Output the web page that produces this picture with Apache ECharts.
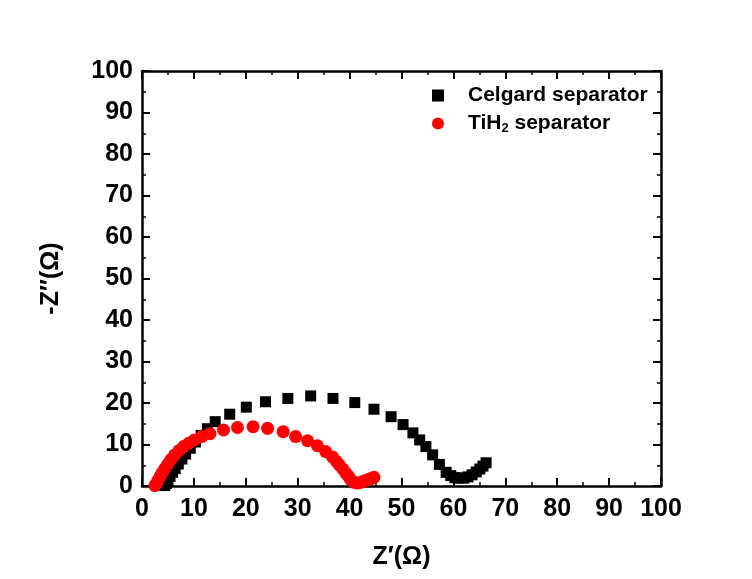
<!DOCTYPE html>
<html>
<head>
<meta charset="utf-8">
<script src="https://cdn.jsdelivr.net/npm/echarts@6/dist/echarts.min.js"></script>
<style>
  html, body { margin: 0; padding: 0; background: #ffffff; }
  #chart { width: 752px; height: 579px; }
</style>
</head>
<body>
<div id="chart"></div>
<script>
// Nyquist plot: [Z', -Z''] pairs in ohms
const seriesNames = ['Celgard separator', 'TiH2 separator'];

const celgard = [
  [4.4, 0.1], [4.7, 0.6], [5.0, 1.4], [5.4, 2.3], [5.9, 3.3], [6.4, 4.2],
  [7.0, 5.3], [7.7, 6.5], [8.4, 7.7], [9.3, 9.1], [10.3, 10.6], [11.4, 12.2],
  [12.6, 13.8], [14.1, 15.5], [16.9, 17.3], [20.1, 19.0], [23.8, 20.3],
  [28.1, 21.1], [32.5, 21.7], [36.8, 21.1], [41.0, 20.1], [44.7, 18.5],
  [48.0, 16.7], [50.3, 14.8], [52.2, 12.8], [53.5, 11.1], [54.7, 9.5],
  [56.0, 7.5], [57.3, 5.2], [58.6, 3.3], [59.5, 2.5], [60.3, 2.0],
  [61.2, 1.9], [62.0, 1.9], [62.8, 2.2], [63.6, 2.7], [64.4, 3.4],
  [65.1, 4.1], [65.7, 4.8], [66.3, 5.6]
];

const tih2 = [
  [2.5, 0.1], [2.8, 0.6], [3.1, 1.4], [3.5, 2.3], [3.9, 3.2], [4.4, 4.2],
  [5.0, 5.3], [5.6, 6.4], [6.3, 7.5], [7.1, 8.5], [8.0, 9.5], [9.0, 10.3],
  [10.1, 11.1], [11.5, 11.9], [13.1, 12.6], [15.7, 13.5], [18.4, 14.1],
  [21.4, 14.3], [24.2, 13.9], [27.2, 13.1], [29.6, 11.9], [31.9, 10.9],
  [33.8, 9.7], [35.4, 8.3], [36.7, 7.0], [37.4, 6.0], [38.0, 5.1],
  [38.7, 4.1], [39.3, 3.1], [39.8, 2.3], [40.2, 1.5], [40.8, 0.9],
  [41.5, 0.7], [42.2, 0.9], [42.8, 1.2], [43.5, 1.5], [44.1, 1.8],
  [44.7, 2.1]
];

const axisMin = 0;
const axisMax = 100;
const axisStep = 10;

const FONT = '"Liberation Sans", Arial, sans-serif';

const chart = echarts.init(document.getElementById('chart'), null, { renderer: 'canvas' });

function frameAxis(extra) {
  return Object.assign({
    min: axisMin,
    max: axisMax,
    interval: axisStep,
    axisLine: { show: true, onZero: false, lineStyle: { color: '#000', width: 2.5 } },
    axisTick: { show: true, inside: true, length: 8, lineStyle: { color: '#000', width: 2 } },
    minorTick: { show: true, splitNumber: 2, length: 4, lineStyle: { color: '#000', width: 1.5 } },
    splitLine: { show: false },
    axisLabel: { show: false }
  }, extra);
}

const labelStyle = {
  show: true,
  color: '#000',
  fontFamily: FONT,
  fontWeight: 'bold',
  fontSize: 25
};

const nameStyle = { color: '#000', fontFamily: FONT, fontWeight: 'bold', fontSize: 25 };

chart.setOption({
  backgroundColor: '#ffffff',
  animation: false,
  grid: { left: 142, right: 91, top: 71, bottom: 93, containLabel: false },
  legend: {
    orient: 'vertical',
    left: 427,
    top: 80,
    itemGap: 7,
    itemWidth: 12,
    itemHeight: 12,
    data: [
      { name: seriesNames[0], icon: 'rect' },
      { name: seriesNames[1], icon: 'circle' }
    ],
    formatter: function (name) {
      return name === seriesNames[1] ? 'TiH{sub|2} separator' : name;
    },
    textStyle: {
      color: '#000',
      fontFamily: FONT,
      fontWeight: 'bold',
      fontSize: 21,
      padding: [0, 0, 0, 19],
      rich: {
        sub: {
          fontFamily: FONT,
          fontWeight: 'bold',
          fontSize: 13,
          verticalAlign: 'bottom',
          padding: [10, 0, 0, 0]
        }
      }
    }
  },
  xAxis: [
    frameAxis({
      type: 'value',
      position: 'bottom',
      name: 'Z\u2032(\u03A9)',
      nameLocation: 'middle',
      nameGap: 59,
      nameTextStyle: nameStyle,
      axisLabel: Object.assign({ margin: 11 }, labelStyle)
    }),
    frameAxis({ type: 'value', position: 'top' })
  ],
  yAxis: [
    frameAxis({
      type: 'value',
      position: 'left',
      name: '-Z\u2033(\u03A9)',
      nameLocation: 'middle',
      nameGap: 78,
      nameRotate: 90,
      nameTextStyle: nameStyle,
      axisLabel: Object.assign({ margin: 9 }, labelStyle)
    }),
    frameAxis({ type: 'value', position: 'right' })
  ],
  series: [
    {
      name: seriesNames[0],
      type: 'scatter',
      xAxisIndex: 0,
      yAxisIndex: 0,
      symbol: 'rect',
      symbolSize: 11,
      itemStyle: { color: '#000000', opacity: 1 },
      data: celgard,
      z: 2
    },
    {
      name: seriesNames[1],
      type: 'scatter',
      xAxisIndex: 0,
      yAxisIndex: 0,
      symbol: 'circle',
      symbolSize: 13,
      itemStyle: { color: '#ff0000', opacity: 1 },
      data: tih2,
      z: 3
    }
  ]
});
</script>
</body>
</html>
